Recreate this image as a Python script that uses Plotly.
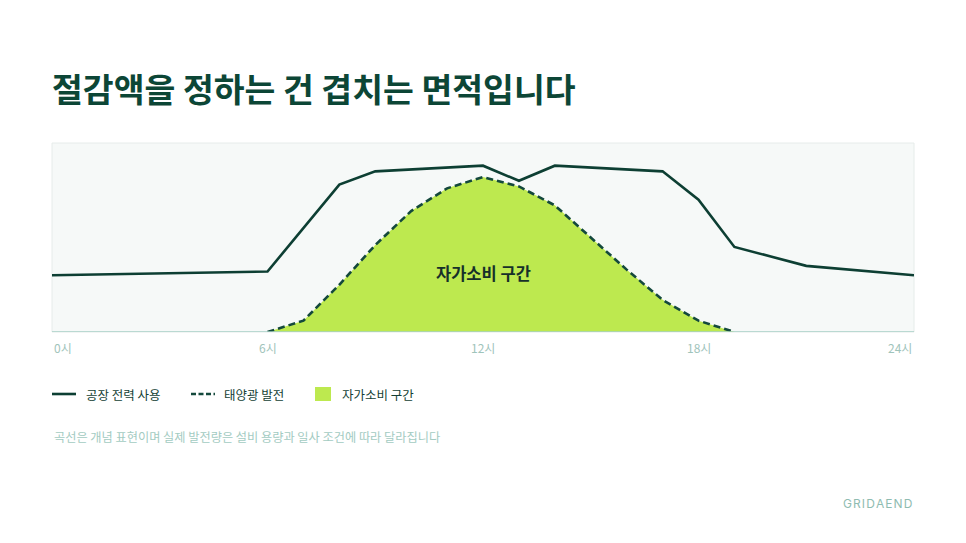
import plotly.graph_objects as go

# ---- data ----
load_hours = [0, 6, 8, 9, 12, 13, 14, 17, 18, 19, 21, 24]
load_values = [30, 32, 78, 85, 88, 80, 88, 85, 70, 45, 35, 30]

solar_hours = [6, 7, 8, 9, 10, 11, 12, 13, 14, 15, 16, 17, 18, 19]
solar_values = [0, 6, 25, 46, 64, 76, 82, 77, 67, 50, 33, 17, 6, 0]

tick_values = [0, 6, 12, 18, 24]
tick_labels = ["0시", "6시", "12시", "18시", "24시"]

title_text = "절감액을 정하는 건 겹치는 면적입니다"
series_names = ["공장 전력 사용", "태양광 발전", "자가소비 구간"]
area_label = "자가소비 구간"
footnote = "곡선은 개념 표현이며 실제 발전량은 설비 용량과 일사 조건에 따라 달라집니다"
brand = "GRIDAEND"

# ---- styles ----
FONT = "Noto Sans CJK KR"
DARK = "#0d3f33"
TITLE_C = "#0c4636"
FILL = "#bde94f"
TICK_C = "#9fc4bb"
NOTE_C = "#a3cbc2"

fig = go.Figure()

fig.add_trace(go.Scatter(
    x=solar_hours, y=solar_values, mode="lines", name=series_names[1],
    line=dict(color="#14493c", width=2.6, dash="7px,4px"),
    fill="tozeroy", fillcolor=FILL, showlegend=False, hoverinfo="skip",
))
fig.add_trace(go.Scatter(
    x=load_hours, y=load_values, mode="lines", name=series_names[0],
    line=dict(color=DARK, width=2.6), showlegend=False, hoverinfo="skip",
))

# page body has an 8px default margin: figure is 958x535 placed at (8, 8)
fig.update_layout(
    width=958, height=535,
    margin=dict(l=44, r=52, t=135, b=211),
    paper_bgcolor="white",
    plot_bgcolor="#f6f9f8",
    font=dict(family=FONT, color=DARK),
    xaxis=dict(range=[0, 24], showgrid=False, zeroline=False, showticklabels=False,
               showline=False, fixedrange=True),
    yaxis=dict(range=[0, 100], showgrid=False, zeroline=False, showticklabels=False,
               showline=False, fixedrange=True),
)

# plot frame
fig.add_shape(type="rect", xref="paper", yref="paper", x0=0, x1=1, y0=0, y1=1,
              line=dict(color="#e6ecea", width=1), layer="below")
# baseline
fig.add_shape(type="line", xref="paper", yref="y", x0=0, x1=1, y0=0, y1=0,
              line=dict(color="#a9d0c7", width=1.5), layer="above")


def py(ypix):
    return (332 - ypix) / 189


def px(xpix):
    return (xpix - 52) / 862


annotations = []
# title
annotations.append(dict(text=f"<b>{title_text}</b>", xref="paper", yref="paper",
                        x=px(50), y=py(87), xanchor="left", yanchor="middle", showarrow=False,
                        font=dict(size=33.5, color=TITLE_C, family=FONT)))
# tick labels
for i, (tv, tl) in enumerate(zip(tick_values, tick_labels)):
    anchor = "left" if i == 0 else ("right" if i == len(tick_values) - 1 else "center")
    annotations.append(dict(text=tl, x=tv, xref="x", y=py(347), yref="paper",
                            xanchor=anchor, yanchor="middle", showarrow=False,
                            font=dict(size=12, color=TICK_C, family=FONT)))
# area label
annotations.append(dict(text=f"<b>{area_label}</b>", x=12, y=31, xref="x", yref="y",
                        showarrow=False, font=dict(size=16.5, color="#16302a", family=FONT)))

# custom legend
leg_y = py(394)
fig.add_shape(type="line", xref="paper", yref="paper", x0=px(52), x1=px(76),
              y0=leg_y, y1=leg_y, line=dict(color=DARK, width=2.6))
fig.add_shape(type="line", xref="paper", yref="paper", x0=px(191), x1=px(215),
              y0=leg_y, y1=leg_y, line=dict(color="#14493c", width=2.6, dash="5px,2.5px"))
fig.add_shape(type="rect", xref="paper", yref="paper", x0=px(315), x1=px(331),
              y0=py(401), y1=py(387), line=dict(width=0), fillcolor=FILL)
for xs, name in zip([84, 222, 340], series_names):
    annotations.append(dict(text=name, x=px(xs), y=leg_y, xref="paper", yref="paper",
                            xanchor="left", yanchor="middle", showarrow=False,
                            font=dict(size=12.5, color="#143f35", family=FONT)))
# footnote
annotations.append(dict(text=footnote, x=0, y=py(437), xref="paper", yref="paper",
                        xanchor="left", yanchor="middle", showarrow=False,
                        font=dict(size=12.2, color=NOTE_C, family=FONT)))
# brand
annotations.append(dict(text="\u200a".join(brand), x=1, y=py(503), xref="paper", yref="paper",
                        xanchor="right", yanchor="middle", showarrow=False,
                        font=dict(size=12, color="#8fbcb1", family="Inter")))

fig.update_layout(annotations=annotations)
fig.write_html("out.html")
